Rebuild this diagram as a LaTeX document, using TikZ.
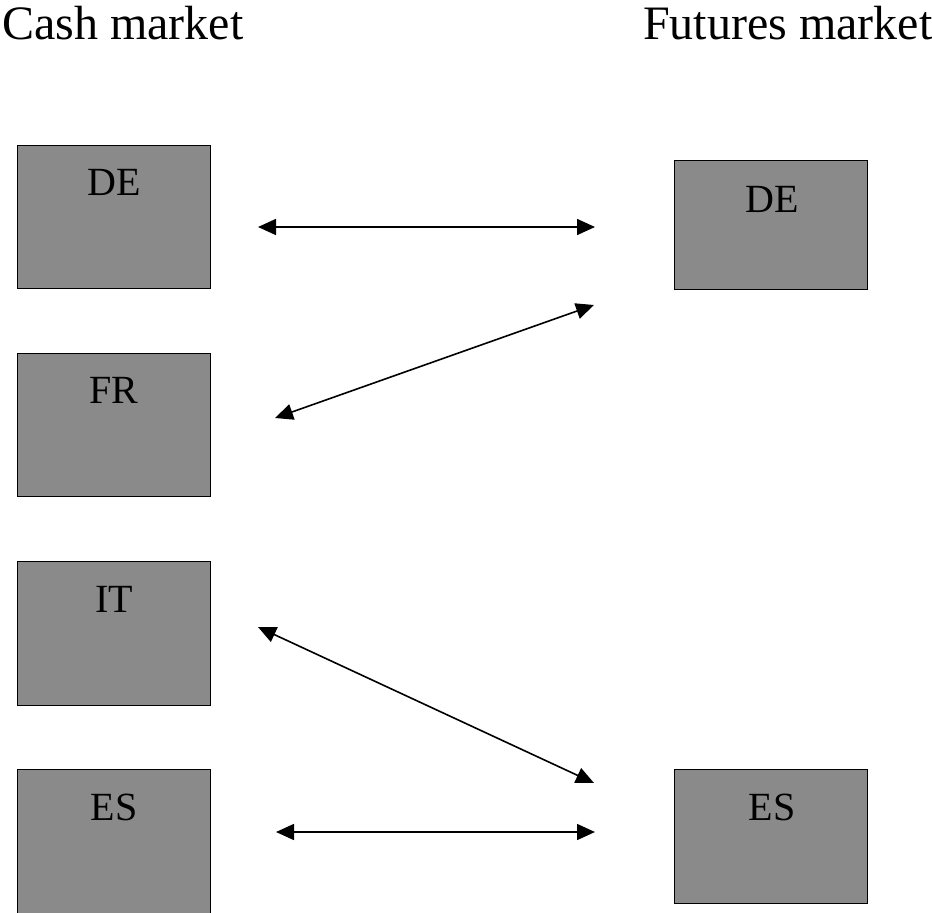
\documentclass[tikz,border=0pt]{standalone}
\usepackage{fontspec}
\setmainfont{Liberation Serif}
\usetikzlibrary{arrows.meta}
\begin{document}
\begin{tikzpicture}[x=1pt,y=-1pt,
  box/.style={draw=black,line width=1.2pt,fill=black!46,minimum width=193pt,inner sep=0pt,anchor=north west},
  lab/.style={font=\fontsize{40}{42}\selectfont,inner sep=0pt,anchor=base},
  ttl/.style={font=\fontsize{48}{50}\selectfont,inner sep=0pt,anchor=base west},
  link/.style={line width=1.6pt,{Triangle[length=18pt,width=16pt]}-{Triangle[length=18pt,width=16pt]}}]
\useasboundingbox (0,0) rectangle (932,913);
\node[ttl] (tc) at (2,39) {Cash market};
\node[ttl] (tf) at (643,39) {Futures market};
% cash boxes
\node[box,minimum height=143pt] (cDE) at (17,145) {};
\node[box,minimum height=143pt] (cFR) at (17,353) {};
\node[box,minimum height=144pt] (cIT) at (17,561) {};
\node[box,minimum height=150pt] (cES) at (17,769) {};
% futures boxes
\node[box,minimum height=129pt] (fDE) at (674,160) {};
\node[box,minimum height=134pt] (fES) at (674,769) {};
% labels
\node[lab] (lcDE) at (114,195) {DE};
\node[lab] (lcFR) at (114,403) {FR};
\node[lab] (lcIT) at (114,612) {IT};
\node[lab] (lcES) at (114,820) {ES};
\node[lab] (lfDE) at (772,212) {DE};
\node[lab] (lfES) at (772,820) {ES};
% arrow ends
\coordinate (a1) at (258,227); \coordinate (b1) at (595,227);
\coordinate (a2) at (275,418); \coordinate (b2) at (594,305);
\coordinate (a3) at (258,627); \coordinate (b3) at (594,783);
\coordinate (a4) at (276,832); \coordinate (b4) at (595,832);
\draw[link] (a1) -- (b1);
\draw[link] (a2) -- (b2);
\draw[link] (a3) -- (b3);
\draw[link] (a4) -- (b4);
\end{tikzpicture}
\end{document}
